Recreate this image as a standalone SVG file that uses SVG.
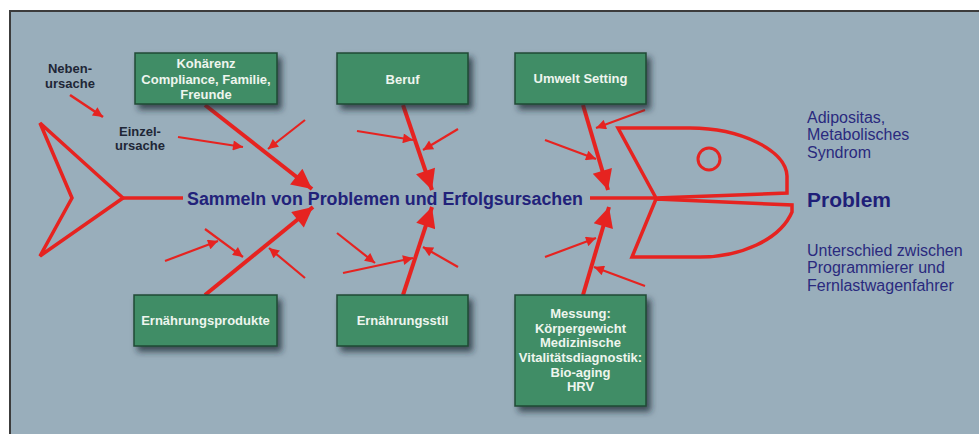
<svg xmlns="http://www.w3.org/2000/svg" width="979" height="434" viewBox="0 0 979 434">
<defs>
<filter id="sh" x="-20%" y="-20%" width="150%" height="160%">
<feDropShadow dx="4" dy="5" stdDeviation="3" flood-color="#1c2a33" flood-opacity="0.75"/>
</filter>
<marker id="big" viewBox="0 0 10 10" refX="10" refY="5" markerWidth="27" markerHeight="20" markerUnits="userSpaceOnUse" orient="auto">
<path d="M0,0 L10,5 L0,10 z" fill="#e62320"/>
</marker>
<marker id="sm" viewBox="0 0 10 10" refX="10" refY="5" markerWidth="13" markerHeight="10" markerUnits="userSpaceOnUse" orient="auto">
<path d="M0,0 L10,5 L0,10 z" fill="#e62320"/>
</marker>
</defs>
<style>
.box{fill:#3f8d66;stroke:#214a36;stroke-width:1.5;filter:url(#sh)}
.bt{font-family:"Liberation Sans",Arial,sans-serif;font-weight:bold;font-size:13px;fill:#eef5ee;text-anchor:middle}
.lab{font-family:"Liberation Sans",Arial,sans-serif;font-weight:bold;font-size:13px;fill:#1e2636;text-anchor:middle}
.nv{font-family:"Liberation Sans",Arial,sans-serif;font-size:16px;fill:#2a2a7e}
.fish{fill:none;stroke:#e62320;stroke-width:3.5;stroke-linejoin:miter}
.main{stroke:#e62320;stroke-width:4;fill:none;marker-end:url(#big)}
.small{stroke:#e62320;stroke-width:2.2;fill:none;marker-end:url(#sm)}
</style>
<rect x="0" y="0" width="979" height="434" fill="#ffffff"/>
<rect x="10" y="11" width="975" height="430" fill="#99aebb" stroke="#3c3c3c" stroke-width="2"/>

<g id="fish">
<path class="fish" d="M40,123 L123,198 L40,256 L72,198 Z"/>
<line class="fish" x1="123" y1="198" x2="183" y2="198"/>
<line class="fish" x1="590" y1="198" x2="656" y2="198"/>
<path class="fish" d="M656,198 L618,128 L690,128 C740,128 786,150 787,176 L787,193 L656,198"/>
<path class="fish" d="M656,199 L792,205 L792,212 C780,240 740,257 700,257 L632,257 L656,199"/>
<circle cx="709" cy="159" r="11" fill="none" stroke="#e62320" stroke-width="3"/>
</g>

<g id="connectors">
<line class="main" x1="205" y1="105" x2="312" y2="189"/>
<line class="main" x1="403" y1="105" x2="432" y2="190"/>
<line class="main" x1="583" y1="105" x2="608" y2="190"/>
<line class="main" x1="205" y1="295" x2="313" y2="207"/>
<line class="main" x1="403" y1="295" x2="432" y2="207"/>
<line class="main" x1="583" y1="295" x2="609" y2="207"/>
<line class="small" x1="70" y1="95" x2="103" y2="117" style="stroke-width:2.6"/>
<line class="small" x1="178" y1="137" x2="243" y2="147"/>
<line class="small" x1="305" y1="120" x2="268" y2="149"/>
<line class="small" x1="357" y1="131" x2="413" y2="140"/>
<line class="small" x1="458" y1="129" x2="423" y2="150"/>
<line class="small" x1="545" y1="140" x2="596" y2="159"/>
<line class="small" x1="645" y1="110" x2="596" y2="128"/>
<line class="small" x1="165" y1="261" x2="218" y2="241"/>
<line class="small" x1="205" y1="229" x2="243" y2="257"/>
<line class="small" x1="305" y1="278" x2="269" y2="248"/>
<line class="small" x1="337" y1="233" x2="375" y2="263"/>
<line class="small" x1="343" y1="273" x2="413" y2="258"/>
<line class="small" x1="458" y1="267" x2="423" y2="247"/>
<line class="small" x1="545" y1="257" x2="596" y2="238"/>
<line class="small" x1="645" y1="286" x2="594" y2="267"/>
</g>

<g id="kohaerenz">
<rect class="box" x="135" y="53" width="142" height="51"/>
<text class="bt" x="206" y="68">Kohärenz</text>
<text class="bt" x="206" y="83.5">Compliance, Familie,</text>
<text class="bt" x="206" y="98.5">Freunde</text>
</g>
<g id="beruf">
<rect class="box" x="337" y="53" width="131" height="51"/>
<text class="bt" x="402.5" y="84">Beruf</text>
</g>
<g id="umwelt">
<rect class="box" x="515" y="53" width="131" height="51"/>
<text class="bt" x="580.5" y="83">Umwelt Setting</text>
</g>
<g id="ernaehrungsprodukte">
<rect class="box" x="134" y="295" width="143" height="51"/>
<text class="bt" x="205.5" y="325">Ernährungsprodukte</text>
</g>
<g id="ernaehrungsstil">
<rect class="box" x="337" y="295" width="131" height="51"/>
<text class="bt" x="402.5" y="325">Ernährungsstil</text>
</g>
<g id="messung">
<rect class="box" x="515" y="295" width="131" height="111"/>
<text class="bt" x="580.5" y="318">Messung:</text>
<text class="bt" x="580.5" y="332.5">Körpergewicht</text>
<text class="bt" x="580.5" y="347">Medizinische</text>
<text class="bt" x="580.5" y="361.5">Vitalitätsdiagnostik:</text>
<text class="bt" x="580.5" y="376.5">Bio-aging</text>
<text class="bt" x="580.5" y="391">HRV</text>
</g>

<g id="nebenursache">
<text class="lab" x="70" y="73">Neben-</text>
<text class="lab" x="70" y="88">ursache</text>
</g>
<g id="einzelursache">
<text class="lab" x="140" y="136">Einzel-</text>
<text class="lab" x="140" y="150">ursache</text>
</g>
<g id="spine-label">
<text x="187" y="205" font-family="Liberation Sans, Arial, sans-serif" font-weight="bold" font-size="18" fill="#22227a" textLength="396" lengthAdjust="spacingAndGlyphs">Sammeln von Problemen und Erfolgsursachen</text>
</g>
<g id="problem">
<text class="nv" x="807" y="122.5">Adipositas,</text>
<text class="nv" x="807" y="140">Metabolisches</text>
<text class="nv" x="807" y="157.5">Syndrom</text>
<text x="807" y="207" font-family="Liberation Sans, Arial, sans-serif" font-weight="bold" font-size="21" fill="#1f1f78">Problem</text>
<text class="nv" x="807" y="255.5">Unterschied zwischen</text>
<text class="nv" x="807" y="273">Programmierer und</text>
<text class="nv" x="807" y="290.5">Fernlastwagenfahrer</text>
</g>
</svg>
